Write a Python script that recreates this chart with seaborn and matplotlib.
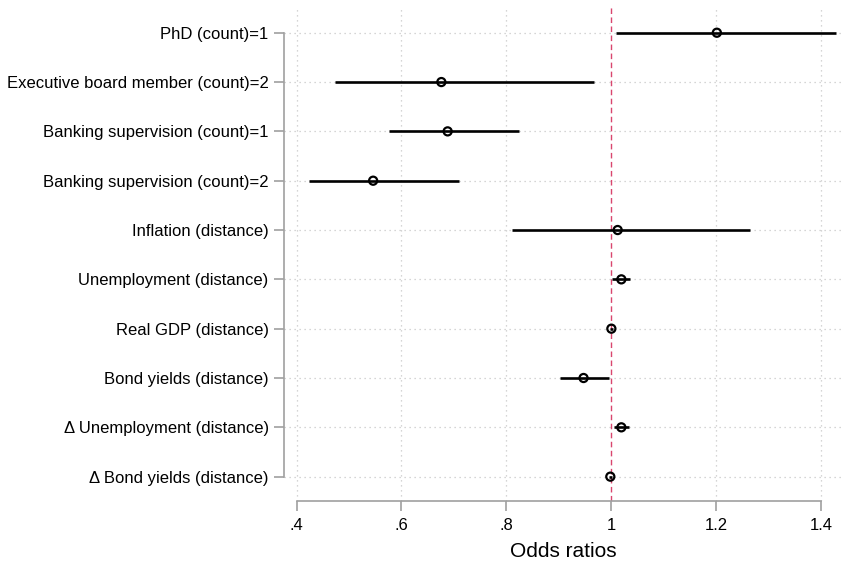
import matplotlib.pyplot as plt
import seaborn as sns
import pandas as pd

# odds ratios with 95% confidence bounds
labels = ['PhD (count)=1', 'Executive board member (count)=2',
          'Banking supervision (count)=1', 'Banking supervision (count)=2',
          'Inflation (distance)', 'Unemployment (distance)',
          'Real GDP (distance)', 'Bond yields (distance)',
          '\u0394 Unemployment (distance)', '\u0394 Bond yields (distance)']
estimate = [1.201, 0.676, 0.688, 0.546, 1.012, 1.019, 1.000, 0.947, 1.019, 0.998]
lower = [1.008, 0.474, 0.576, 0.423, 0.810, 1.002, 0.997, 0.903, 1.005, 0.996]
upper = [1.429, 0.966, 0.824, 0.709, 1.265, 1.036, 1.003, 0.995, 1.034, 1.001]
xticks = [0.4, 0.6, 0.8, 1.0, 1.2, 1.4]
xticklabels = ['.4', '.6', '.8', '1', '1.2', '1.4']

df = pd.DataFrame({'label': labels, 'or': estimate, 'lo': lower, 'hi': upper})

sns.set_style('white')
plt.rcParams['font.family'] = ['Liberation Sans', 'DejaVu Sans']
plt.rcParams['text.color'] = 'black'
plt.rcParams['axes.labelcolor'] = 'black'
plt.rcParams['xtick.labelcolor'] = 'black'
plt.rcParams['ytick.labelcolor'] = 'black'

fig = plt.figure(figsize=(8.45, 5.61), dpi=100)
ax = fig.add_axes([0.336, 0.107, 0.662, 0.881])

grid_kw = dict(color='#c8c8c8', linestyle=(0, (1, 3)), linewidth=0.9, zorder=0)
for t in xticks:
    if t != 1.0:
        ax.axvline(t, **grid_kw)
for i in range(len(labels)):
    ax.axhline(i, **grid_kw)

# reference line at odds ratio 1
ax.axvline(1.0, color='#d9466e', linestyle=(0, (4, 2.5)), linewidth=1.0, zorder=1)

ax.hlines(y=df['label'], xmin=df['lo'], xmax=df['hi'], color='black',
          linewidth=1.9, zorder=2)
sns.scatterplot(data=df, x='or', y='label', ax=ax, s=34, marker='o',
                facecolor='none', edgecolor='black', linewidth=1.6, zorder=3)

ax.set_xlim(0.376, 1.442)
ax.set_ylim(len(labels) - 0.507, -0.527)
ax.set_xticks(xticks)
ax.set_xticklabels(xticklabels)
ax.set_xlabel('Odds ratios', fontsize=15, labelpad=7)
ax.set_ylabel('')

for side in ['top', 'right']:
    ax.spines[side].set_visible(False)
for side in ['left', 'bottom']:
    ax.spines[side].set_color('#a0a0a0')
    ax.spines[side].set_linewidth(1.2)
ax.spines['left'].set_bounds(0, len(labels) - 1)
ax.spines['bottom'].set_bounds(0.4, 1.4)

ax.tick_params(axis='both', which='both', length=7, width=1.2, color='#a0a0a0',
               labelsize=12, left=True, bottom=True)
ax.tick_params(axis='y', pad=4)
ax.tick_params(axis='x', pad=5)

fig.savefig('out.png', dpi=100)
